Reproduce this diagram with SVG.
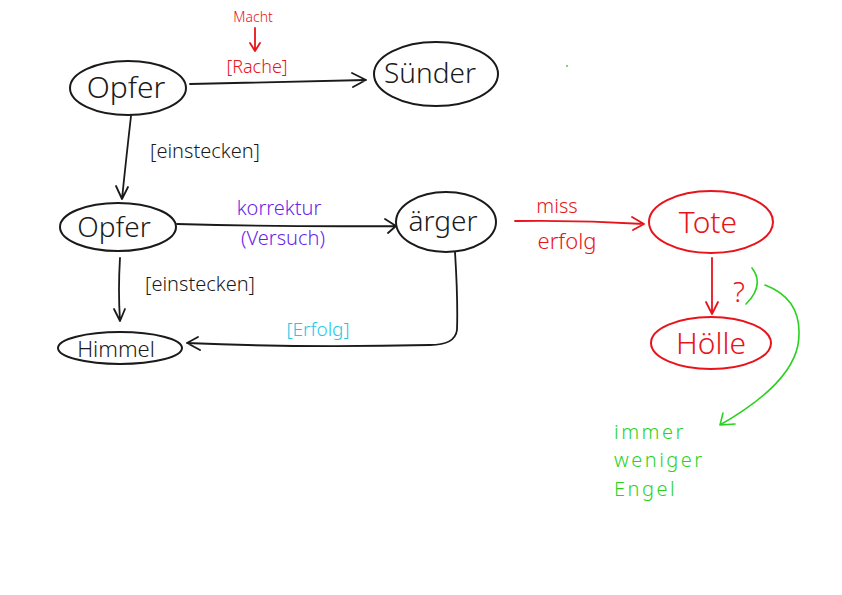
<svg xmlns="http://www.w3.org/2000/svg" width="842" height="595" viewBox="0 0 842 595">
<defs>
<style>
.n{fill:none;stroke:#1a1a1a;stroke-width:2}
.nr{fill:none;stroke:#e8141b;stroke-width:2}
.c{fill:none;stroke:#1a1a1a;stroke-width:1.8;stroke-linecap:round;stroke-linejoin:round}
.cr{fill:none;stroke:#e8141b;stroke-width:1.8;stroke-linecap:round;stroke-linejoin:round}
.cg{fill:none;stroke:#2ad21f;stroke-width:1.6;stroke-linecap:round;stroke-linejoin:round}
text{font-family:"Noto Sans","Liberation Sans",sans-serif;text-anchor:middle;font-weight:300}
.t{fill:#1a1a1a;font-size:28px}
.tr{fill:#e8141b;font-size:28px}
.l{fill:#1a1a1a;font-size:20px}
.lr{fill:#e8141b;font-size:18px}
.lp{fill:#6a1fe8;font-size:20px}
.lc{fill:#21c8e8;font-size:19px}
.lg{fill:#2ad21f;font-size:20px;text-anchor:start;letter-spacing:2.5px}
</style>
</defs>
<rect width="842" height="595" fill="#ffffff"/>
<g id="connectors">
<path class="c" d="M190 84 Q280 82 366 80 M352 73 L366 80 L353 87"/>
<path class="cr" d="M255 28 L255 51 M250 43 L255 51 L260 43"/>
<path class="c" d="M131 116 Q126 160 122 199 M116 186 L122 199 L128 187"/>
<path class="c" d="M177 224 Q290 227 396 226 M385 219 L396 226 L388 233"/>
<path class="cr" d="M515 221 Q580 220 644 224 M632 217 L644 224 L633 230"/>
<path class="cr" d="M712 258 L712 314 M706 302 L712 314 L718 302"/>
<path class="c" d="M120 258 Q118 290 120 321 M114 309 L120 321 L125 309"/>
<path class="c" d="M455 252 Q458 300 457 330 Q455 345 430 345 Q300 348 187 343 M198 337 L187 343 L200 350"/>
<path class="cg" d="M752 268 Q765 285 746 304"/>
<path class="cg" d="M765 285 Q805 300 798 345 Q790 385 720 425 M723 413 L720 425 L735 424"/>
<circle cx="567" cy="66" r="0.9" fill="#2ad21f"/>
</g>
<g id="opfer1"><ellipse class="n" cx="128" cy="88" rx="58" ry="27"/><text class="t" x="126" y="98" style="font-size:30px">Opfer</text></g>
<g id="suender"><ellipse class="n" cx="436" cy="74" rx="62" ry="32"/><text class="t" x="430" y="83">Sünder</text></g>
<g id="opfer2"><ellipse class="n" cx="118" cy="227" rx="58" ry="24"/><text class="t" x="114" y="237">Opfer</text></g>
<g id="aerger"><ellipse class="n" cx="446" cy="222" rx="50" ry="30"/><text class="t" x="443" y="231">ärger</text></g>
<g id="tote"><ellipse class="nr" cx="711" cy="222" rx="62" ry="31"/><text class="tr" x="708" y="233" style="font-size:30px">Tote</text></g>
<g id="hoelle"><ellipse class="nr" cx="711" cy="343" rx="60" ry="26"/><text class="tr" x="711" y="354" style="font-size:30px">Hölle</text></g>
<g id="himmel"><ellipse class="n" cx="120" cy="348" rx="62" ry="16"/><text class="t" x="116" y="357" style="font-size:22px">Himmel</text></g>
<g id="labels">
<text class="lr" x="253" y="22" style="font-size:14px">Macht</text>
<text class="lr" x="257" y="73">[Rache]</text>
<text class="l" x="205" y="158">[einstecken]</text>
<text class="lp" x="279" y="215">korrektur</text>
<text class="lp" x="283" y="245">(Versuch)</text>
<text class="lr" x="557" y="213" style="font-size:20px">miss</text>
<text class="lr" x="567" y="249" style="font-size:22px">erfolg</text>
<text class="lr" x="739" y="302" style="font-size:28px">?</text>
<text class="l" x="200" y="291">[einstecken]</text>
<text class="lc" x="318" y="336">[Erfolg]</text>
<text class="lg" x="614" y="439">immer</text>
<text class="lg" x="614" y="467">weniger</text>
<text class="lg" x="614" y="496">Engel</text>
</g>
</svg>
